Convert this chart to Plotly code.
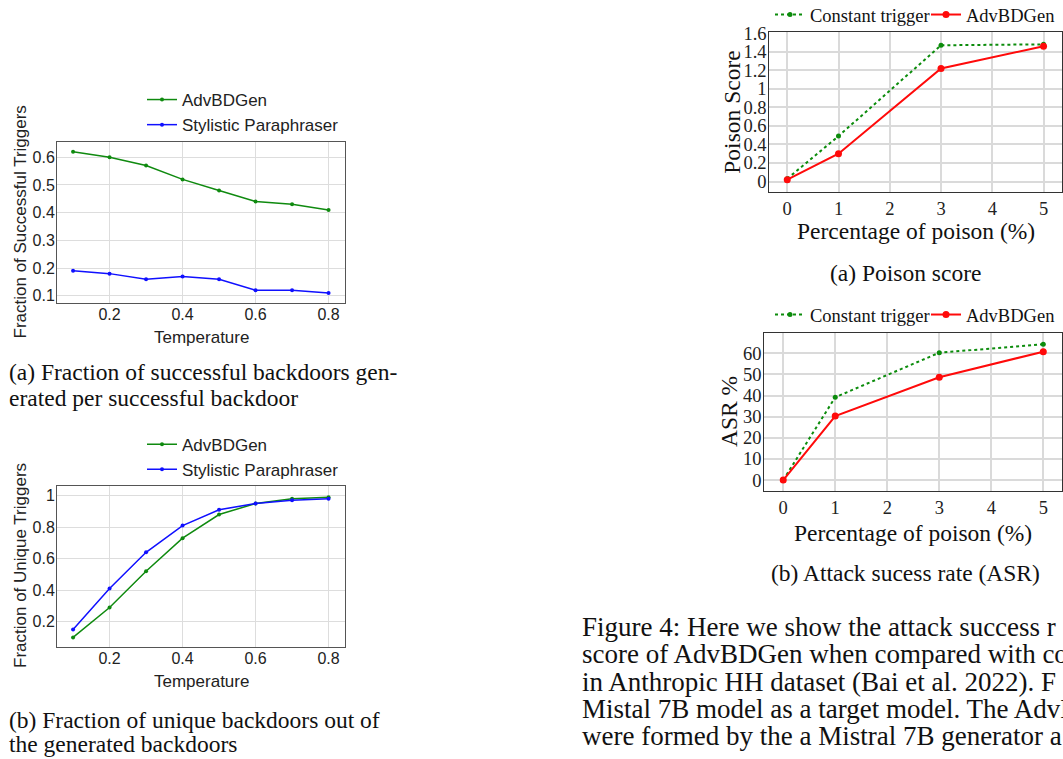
import plotly.graph_objects as go

W, H = 1063, 759
SANS = "Liberation Sans, Arial, sans-serif"
SERIF = "Liberation Serif, Times New Roman, serif"

# ---------------- data ----------------
temperature = [0.1, 0.2, 0.3, 0.4, 0.5, 0.6, 0.7, 0.8]
succ_advbdgen = [0.62, 0.60, 0.57, 0.52, 0.48, 0.44, 0.43, 0.41]
succ_stylistic = [0.19, 0.18, 0.16, 0.17, 0.16, 0.12, 0.12, 0.11]
uniq_advbdgen = [0.10, 0.29, 0.52, 0.73, 0.88, 0.95, 0.98, 0.99]
uniq_stylistic = [0.15, 0.41, 0.64, 0.81, 0.91, 0.95, 0.97, 0.98]

poison_pct = [0, 1, 3, 5]
score_constant = [0.03, 0.49, 1.47, 1.48]
score_advbdgen = [0.02, 0.30, 1.22, 1.46]
asr_constant = [0, 39.2, 60.3, 64.3]
asr_advbdgen = [0, 30.3, 48.7, 60.8]

temp_ticks = [0.2, 0.4, 0.6, 0.8]
succ_ticks = [0.1, 0.2, 0.3, 0.4, 0.5, 0.6]
uniq_ticks = [0.2, 0.4, 0.6, 0.8, 1]
pct_ticks = [0, 1, 2, 3, 4, 5]
score_ticks = [0, 0.2, 0.4, 0.6, 0.8, 1, 1.2, 1.4, 1.6]
asr_ticks = [0, 10, 20, 30, 40, 50, 60]

GREEN_L = "#0f8a0f"
BLUE_L = "#1010ff"
GREEN_R = "#0c8c0c"
RED_R = "#ff0a0a"


def dx(l, r):
    return [l / W, r / W]


def dy(t, b):
    return [1 - b / H, 1 - t / H]


fig = go.Figure()

# (a) fraction of successful triggers
fig.add_trace(go.Scatter(x=temperature, y=succ_advbdgen, name="AdvBDGen", mode="lines+markers",
                         line=dict(color=GREEN_L, width=1.5), marker=dict(size=4, color=GREEN_L),
                         xaxis="x", yaxis="y", legend="legend"))
fig.add_trace(go.Scatter(x=temperature, y=succ_stylistic, name="Stylistic Paraphraser", mode="lines+markers",
                         line=dict(color=BLUE_L, width=1.5), marker=dict(size=4, color=BLUE_L),
                         xaxis="x", yaxis="y", legend="legend"))
# (b) fraction of unique triggers
fig.add_trace(go.Scatter(x=temperature, y=uniq_advbdgen, name="AdvBDGen", mode="lines+markers",
                         line=dict(color=GREEN_L, width=1.5), marker=dict(size=4, color=GREEN_L),
                         xaxis="x2", yaxis="y2", legend="legend2"))
fig.add_trace(go.Scatter(x=temperature, y=uniq_stylistic, name="Stylistic Paraphraser", mode="lines+markers",
                         line=dict(color=BLUE_L, width=1.5), marker=dict(size=4, color=BLUE_L),
                         xaxis="x2", yaxis="y2", legend="legend2"))
# poison score
fig.add_trace(go.Scatter(x=poison_pct, y=score_constant, name="Constant trigger", mode="lines+markers",
                         line=dict(color=GREEN_R, width=2, dash="dot"), marker=dict(size=5, color=GREEN_R),
                         xaxis="x3", yaxis="y3", legend="legend3"))
fig.add_trace(go.Scatter(x=poison_pct, y=score_advbdgen, name="AdvBDGen", mode="lines+markers",
                         line=dict(color=RED_R, width=2), marker=dict(size=7, color=RED_R),
                         xaxis="x3", yaxis="y3", legend="legend3"))
# ASR
fig.add_trace(go.Scatter(x=poison_pct, y=asr_constant, name="Constant trigger", mode="lines+markers",
                         line=dict(color=GREEN_R, width=2, dash="dot"), marker=dict(size=5, color=GREEN_R),
                         xaxis="x4", yaxis="y4", legend="legend4"))
fig.add_trace(go.Scatter(x=poison_pct, y=asr_advbdgen, name="AdvBDGen", mode="lines+markers",
                         line=dict(color=RED_R, width=2), marker=dict(size=7, color=RED_R),
                         xaxis="x4", yaxis="y4", legend="legend4"))

left_common = dict(showgrid=True, gridcolor="#dddddd", gridwidth=1, showline=True, linecolor="#555555",
                   linewidth=1, mirror=True, zeroline=False, ticks="",
                   tickfont=dict(family=SANS, size=16, color="#222222"))
right_common = dict(showgrid=True, gridcolor="#dadada", gridwidth=1.5, showline=True, linecolor="#333333",
                    linewidth=1, mirror=True, zeroline=False, ticks="",
                    tickfont=dict(family=SERIF, size=18.5, color="#222222"))


def fmt(v):
    return f"{v:g}"


fig.update_layout(
    width=W, height=H,
    margin=dict(l=0, r=0, t=0, b=0, autoexpand=False),
    paper_bgcolor="white", plot_bgcolor="white",
    showlegend=True,
    xaxis=dict(domain=dx(57, 345), anchor="y", range=[0.056, 0.845], ticklabelstandoff=-3,
               tickvals=temp_ticks, ticktext=[fmt(v) for v in temp_ticks], **left_common),
    yaxis=dict(domain=dy(142, 303), anchor="x", range=[0.074, 0.655],
               tickvals=succ_ticks, ticktext=[fmt(v) for v in succ_ticks], ticklabelstandoff=-2, **left_common),
    xaxis2=dict(domain=dx(57, 345), anchor="y2", range=[0.056, 0.845], ticklabelstandoff=-3,
                tickvals=temp_ticks, ticktext=[fmt(v) for v in temp_ticks], **left_common),
    yaxis2=dict(domain=dy(485.7, 646.7), anchor="x2", range=[0.041, 1.063],
                tickvals=uniq_ticks, ticktext=[fmt(v) for v in uniq_ticks], ticklabelstandoff=-2, **left_common),
    xaxis3=dict(domain=dx(769.3, 1062), anchor="y3", range=[-0.35, 5.36],
                tickvals=pct_ticks, ticktext=[fmt(v) for v in pct_ticks], ticklabelstandoff=0, **right_common),
    yaxis3=dict(domain=dy(32.3, 191.7), anchor="x3", range=[-0.11, 1.61],
                tickvals=score_ticks, ticktext=[fmt(v) for v in score_ticks], ticklabelstandoff=-2, **right_common),
    xaxis4=dict(domain=dx(764.3, 1062), anchor="y4", range=[-0.364, 5.36],
                tickvals=pct_ticks, ticktext=[fmt(v) for v in pct_ticks], ticklabelstandoff=0, **right_common),
    yaxis4=dict(domain=dy(333.3, 491), anchor="x4", range=[-5.2, 69.5],
                tickvals=asr_ticks, ticktext=[fmt(v) for v in asr_ticks], ticklabelstandoff=-2, **right_common),
    legend=dict(x=142 / W, y=1 - 112.5 / H, xanchor="left", yanchor="middle", bgcolor="rgba(0,0,0,0)",
                font=dict(family=SANS, size=17, color="#222222"), orientation="v"),
    legend2=dict(x=142 / W, y=1 - 457.2 / H, xanchor="left", yanchor="middle", bgcolor="rgba(0,0,0,0)",
                 font=dict(family=SANS, size=17, color="#222222"), orientation="v"),
    legend3=dict(x=770 / W, y=1 - 15 / H, xanchor="left", yanchor="middle", bgcolor="rgba(0,0,0,0)",
                 font=dict(family=SERIF, size=18.5, color="#111111"), orientation="h",
                 entrywidth=111, entrywidthmode="pixels"),
    legend4=dict(x=770 / W, y=1 - 315 / H, xanchor="left", yanchor="middle", bgcolor="rgba(0,0,0,0)",
                 font=dict(family=SERIF, size=18.5, color="#111111"), orientation="h",
                 entrywidth=111, entrywidthmode="pixels"),
)


def ann(text, x, y, size, family, xanchor="center", angle=0, color="#111111"):
    fig.add_annotation(text=text, x=x / W, y=1 - y / H, xref="paper", yref="paper",
                       xanchor=xanchor, yanchor="middle", textangle=angle, showarrow=False,
                       font=dict(family=family, size=size, color=color))


# axis titles
ann("Temperature", 201, 337.3, 17, SANS, color="#222222")
ann("Fraction of Successful Triggers", 20, 222.5, 17, SANS, angle=-90, color="#222222")
ann("Temperature", 201, 681.7, 17, SANS, color="#222222")
ann("Fraction of Unique Triggers", 20, 566, 17, SANS, angle=-90, color="#222222")
ann("Percentage of poison (%)", 916, 231.5, 23.5, SERIF)
ann("Poison Score", 731.7, 112, 23.5, SERIF, angle=-90)
ann("Percentage of poison (%)", 913, 532.5, 23.5, SERIF)
ann("ASR %", 729, 412, 23.5, SERIF, angle=-90)

# sub-captions
ann("(a) Fraction of successful backdoors gen-", 7, 372, 23.5, SERIF, xanchor="left")
ann("erated per successful backdoor", 7, 397.5, 23.5, SERIF, xanchor="left")
ann("(b) Fraction of unique backdoors out of", 7, 720, 23.5, SERIF, xanchor="left")
ann("the generated backdoors", 7, 744, 23.5, SERIF, xanchor="left")
ann("(a) Poison score", 905, 273, 23.5, SERIF)
ann("(b) Attack sucess rate (ASR)", 905, 573.3, 23.5, SERIF)

# main caption (cut at the right edge of the page, as in the reference)
caption_lines = [
    "Figure 4: Here we show the attack success r",
    "score of AdvBDGen when compared with co",
    "in Anthropic HH dataset (Bai et al. 2022). F",
    "Mistal 7B model as a target model. The AdvB",
    "were formed by the a Mistral 7B generator a",
]
for i, line in enumerate(caption_lines):
    ann(line, 580, 627 + 27.3 * i, 27, SERIF, xanchor="left")

# the page itself should not add the browser's default 8px body margin
fig.write_html("out.html", config={"displayModeBar": False},
               post_script="document.body.style.margin='0';document.body.style.padding='0';")
